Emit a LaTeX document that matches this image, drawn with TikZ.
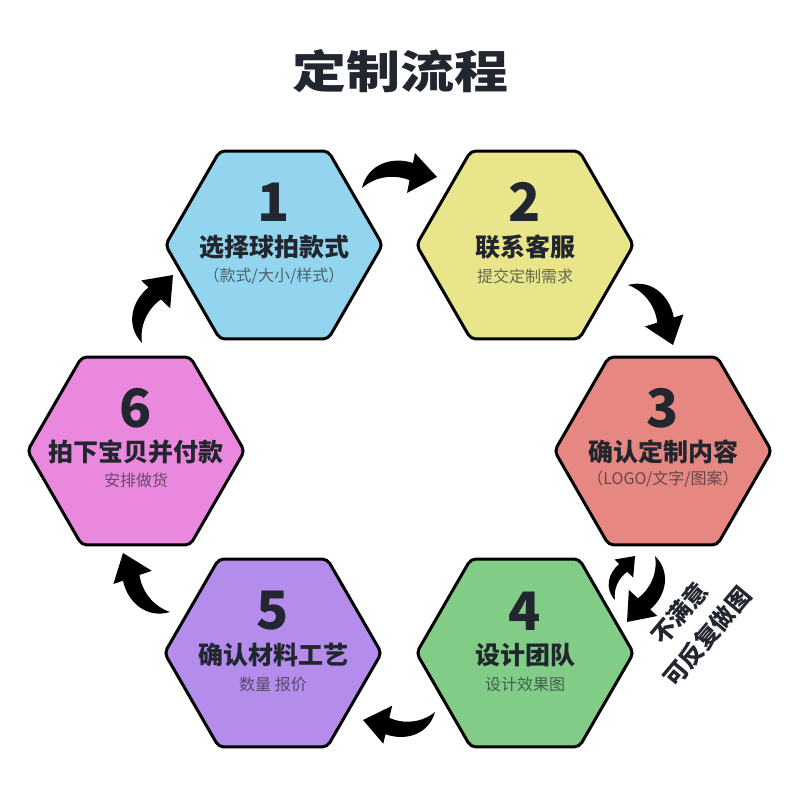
\documentclass[tikz,border=0pt]{standalone}
\usepackage{fontspec}
\setmainfont{Noto Sans CJK SC}
\usepackage{tikz}
\usetikzlibrary{shapes.geometric,calc}

\definecolor{ink}{HTML}{22262E}
\definecolor{hexblue}{HTML}{93D5EE}
\definecolor{hexyellow}{HTML}{E8E58A}
\definecolor{hexred}{HTML}{E78782}
\definecolor{hexgreen}{HTML}{81CD88}
\definecolor{hexviolet}{HTML}{B48CEC}
\definecolor{hexpink}{HTML}{EA88DE}

\tikzset{
  pics/bendarrow/.style={code={
    \fill (0,0) .. controls (0.12,0.3) and (0.45,0.36) .. (0.713,0.229)
      -- (0.758,0.356) -- (1,0) -- (0.578,-0.151) -- (0.636,0.011)
      .. controls (0.45,0.12) and (0.2,0.13) .. (0,0) -- cycle;
  }}
}

\begin{document}
\begin{tikzpicture}[x=1pt, y=1pt,
  hexa/.style={regular polygon, regular polygon sides=6, minimum size=217pt, inner sep=0pt, draw=black, line width=3pt, rounded corners=5pt},
  num/.style={font=\bfseries\fontsize{53}{53}\selectfont, text=ink, inner sep=0pt},
  head/.style={font=\bfseries\fontsize{25}{25}\selectfont, text=ink, inner sep=0pt},
  sub/.style={font=\fontsize{16}{16}\selectfont, text=ink, text opacity=0.65, inner sep=0pt},
  note/.style={font=\bfseries\fontsize{24}{36}\selectfont, text=ink, align=center, inner sep=0pt}]
\path[use as bounding box, fill=white] (0,0) rectangle (800,800);
\node[font=\bfseries\fontsize{45}{45}\selectfont, text=ink, xscale=1.2] (title) at (400,729) {定制流程};

\node[hexa, fill=hexblue] (h1) at (274,555) {};
\node[num] (n1) at ([yshift=43pt]h1.center) {1};
\node[head] (l1) at ([yshift=-2pt]h1.center) {选择球拍款式};
\node[sub] (s1) at ([yshift=-31pt]h1.center) {（款式/大小/样式）};

\node[hexa, fill=hexyellow] (h2) at (525,555) {};
\node[num] (n2) at ([yshift=43pt]h2.center) {2};
\node[head] (l2) at ([yshift=-2pt]h2.center) {联系客服};
\node[sub] (s2) at ([yshift=-31pt]h2.center) {提交定制需求};

\node[hexa, fill=hexred] (h3) at (663,349) {};
\node[num] (n3) at ([yshift=43pt]h3.center) {3};
\node[head] (l3) at ([yshift=-1pt]h3.center) {确认定制内容};
\node[sub] (s3) at ([yshift=-28pt]h3.center) {（LOGO/文字/图案）};

\node[hexa, fill=hexgreen] (h4) at (525,147) {};
\node[num] (n4) at ([yshift=42pt]h4.center) {4};
\node[head] (l4) at ([yshift=-2pt]h4.center) {设计团队};
\node[sub] (s4) at ([yshift=-31pt]h4.center) {设计效果图};

\node[hexa, fill=hexviolet] (h5) at (273,147) {};
\node[num] (n5) at ([yshift=42pt]h5.center) {5};
\node[head] (l5) at ([yshift=-2pt]h5.center) {确认材料工艺};
\node[sub] (s5) at ([yshift=-31pt]h5.center) {数量 报价};

\node[hexa, fill=hexpink] (h6) at (136,349) {};
\node[num] (n6) at ([yshift=43pt]h6.center) {6};
\node[head] (l6) at ([yshift=-1pt]h6.center) {拍下宝贝并付款};
\node[sub] (s6) at ([yshift=-29pt]h6.center) {安排做货};

\node[note, rotate=50] (redo) at (693,175) {不满意\\可反复做图};

\coordinate (t12) at (362,612); \coordinate (e12) at (437,623);
\coordinate (t23) at (628,515); \coordinate (e23) at (673,455);
\coordinate (t45) at (435,88);  \coordinate (e45) at (363,80);
\coordinate (t56) at (170,188); \coordinate (e56) at (123,247);
\coordinate (t61) at (142,457); \coordinate (e61) at (173,525);
\coordinate (ta) at (615,200);  \coordinate (ea) at (635,244);
\coordinate (tb) at (655,244);  \coordinate (eb) at (627,178);
\foreach \a/\b in {t12/e12, t23/e23, t45/e45, t56/e56, t61/e61, ta/ea, tb/eb}
  \path let \p1=(\a), \p2=(\b) in (\p1)
    pic[rotate={atan2(\y2-\y1,\x2-\x1)}, scale={veclen(\x2-\x1,\y2-\y1)}] {bendarrow};
\end{tikzpicture}
\end{document}
